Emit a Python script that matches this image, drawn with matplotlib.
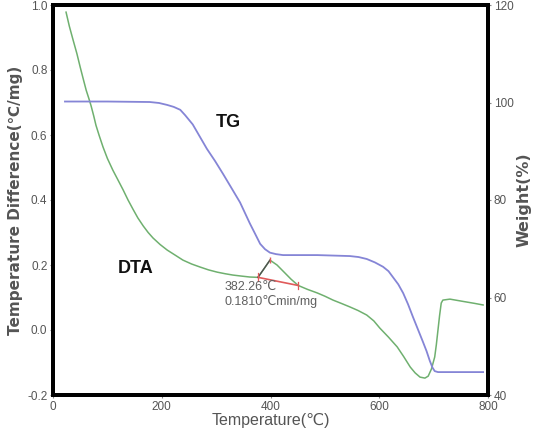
import matplotlib
matplotlib.use("Agg")
import matplotlib.pyplot as plt

plt.rcParams['font.family'] = ['Liberation Sans', 'DejaVu Sans']

# DTA curve (left axis)
dta_T = [24, 30, 37, 44, 50, 56, 61, 66, 70, 75, 79, 85, 92, 100, 110, 120, 129, 138, 147,
         156, 166, 175, 184, 197, 210, 225, 239, 255, 270, 286, 302, 317, 331, 346, 362,
         377, 388, 399, 412, 425, 438, 451, 468, 486, 500, 515, 530, 546, 561, 577, 590,
         601, 617, 633, 645, 657, 666, 675, 684, 690, 696, 702, 705, 708, 711, 714, 717,
         730, 754, 775, 791]
dta_v = [0.978, 0.935, 0.892, 0.850, 0.809, 0.770, 0.738, 0.712, 0.690, 0.658, 0.630, 0.598,
         0.563, 0.528, 0.492, 0.460, 0.431, 0.400, 0.372, 0.345, 0.320, 0.300, 0.283, 0.263,
         0.246, 0.230, 0.215, 0.203, 0.194, 0.185, 0.178, 0.173, 0.169, 0.166, 0.163,
         0.162, 0.188, 0.215, 0.200, 0.178, 0.156, 0.137, 0.125, 0.114, 0.104, 0.092, 0.082,
         0.071, 0.060, 0.046, 0.028, 0.006, -0.022, -0.052, -0.082, -0.114, -0.132, -0.145,
         -0.148, -0.142, -0.120, -0.083, -0.045, 0.0, 0.045, 0.083, 0.092, 0.095, 0.088,
         0.082, 0.077]

# TG curve (right axis)
tg_T = [22, 100, 178, 195, 210, 222, 234, 243, 257, 270, 283, 298, 313, 328, 344, 362, 372,
        381, 390, 399, 410, 423, 486, 546, 562, 577, 592, 607, 617, 625, 635, 644, 653, 662,
        671, 680, 687, 693, 698, 702, 708, 725, 791]
tg_w = [100.2, 100.2, 100.1, 99.9, 99.5, 99.1, 98.5, 97.4, 95.5, 93.0, 90.5, 88.0, 85.3, 82.5,
        79.5, 75.2, 73.0, 71.0, 69.9, 69.2, 68.9, 68.7, 68.7, 68.5, 68.3, 67.9, 67.2, 66.3,
        65.4, 64.2, 62.7, 60.9, 58.6, 56.0, 53.5, 51.0, 49.0, 47.0, 45.6, 44.9, 44.7, 44.7,
        44.7]

# peak annotation
base_T = [377, 451]
base_v = [0.162, 0.137]
peak_T = [377, 399]
peak_v = [0.162, 0.215]
ann_lines = ["382.26℃", "0.1810℃min/mg"]

x_ticks = [0, 200, 400, 600, 800]
y_ticks = [-0.2, 0.0, 0.2, 0.4, 0.6, 0.8, 1.0]
w_ticks = [40, 60, 80, 100, 120]

fig = plt.figure(figsize=(5.37, 4.33), dpi=100)
ax = fig.add_axes([53/537, 1-395/433, 435/537, 390/433])
ax2 = ax.twinx()

gray = '#555555'
ax.plot(dta_T, dta_v, color='#6fb06f', lw=1.1)
ax2.plot(tg_T, tg_w, color='#8585d6', lw=1.3)

ax.plot(base_T, base_v, color='#e05a5a', lw=1.2)
ax.plot(peak_T, peak_v, color='#505050', lw=1.0)
for t, v in zip(base_T, base_v):
    ax.plot([t, t], [v - 0.012, v + 0.012], color='#e05a5a', lw=0.9)
ax.plot([peak_T[1]], [peak_v[1]], marker='|', color='#e05a5a', ms=5)

ax.text(316, 0.132, ann_lines[0], ha='left', va='center', fontsize=9, color='#606060')
ax.text(316, 0.089, ann_lines[1], ha='left', va='center', fontsize=9, color='#606060')

ax.text(322, 0.637, "TG", fontsize=13, fontweight='bold', color='#111111', ha='center', va='center')
ax.text(152, 0.19, "DTA", fontsize=13, fontweight='bold', color='#111111', ha='center', va='center')

ax.set_xlim(0, 800)
ax.set_ylim(-0.2, 1.0)
ax2.set_ylim(40, 120)
ax.set_xticks(x_ticks)
ax.set_yticks(y_ticks)
ax.set_yticklabels([f"{v:.1f}" for v in y_ticks])
ax2.set_yticks(w_ticks)

for a in (ax, ax2):
    for s in a.spines.values():
        s.set_linewidth(2.8)
        s.set_color('black')
    a.tick_params(labelsize=8.5, labelcolor=gray, length=2, width=0.8, color='#888888', pad=2)

ax.set_xlabel("Temperature(℃)", fontsize=11.5, color=gray, labelpad=0)
ax.set_ylabel("Temperature Difference(℃/mg)", fontsize=11, color=gray, fontweight='bold',
              labelpad=3, family=['DejaVu Sans'])
ax2.set_ylabel("Weight(%)", fontsize=11.5, color=gray, fontweight='bold', labelpad=2,
               family=['DejaVu Sans'])

fig.savefig("out.png", dpi=100)
